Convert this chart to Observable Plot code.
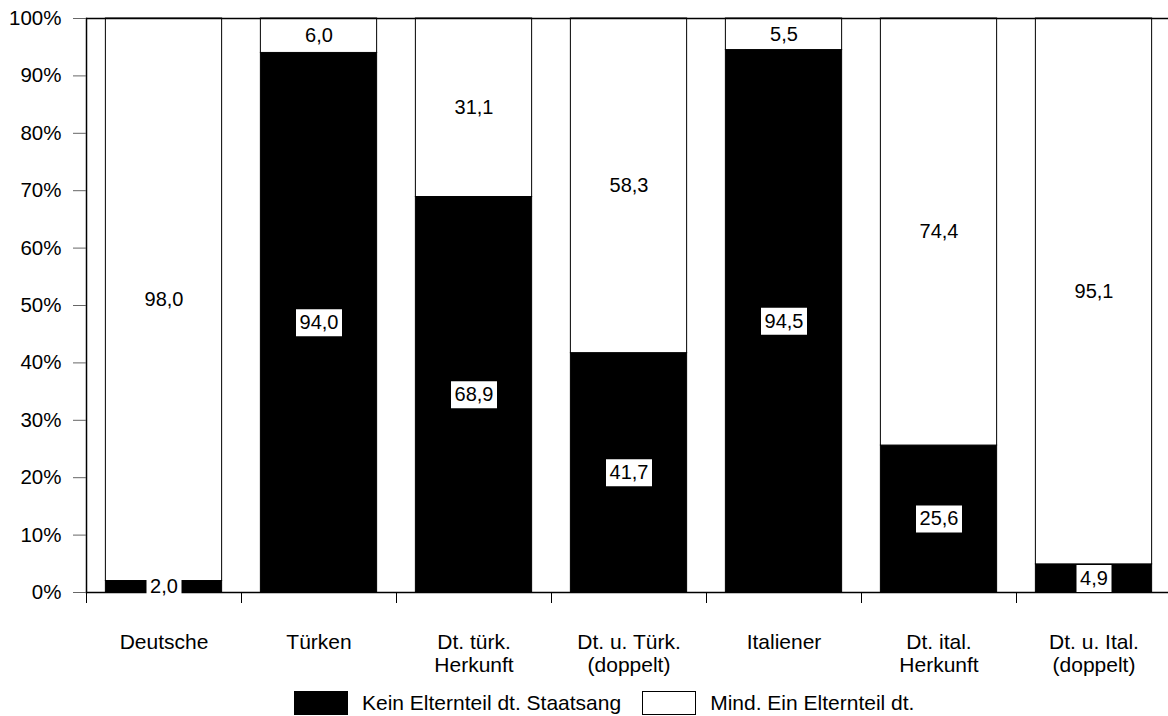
<!DOCTYPE html>
<html><head><meta charset="utf-8">
<script src="https://cdn.jsdelivr.net/npm/d3@7"></script>
<script src="https://cdn.jsdelivr.net/npm/@observablehq/plot@0.6"></script>
<style>
body{margin:0;background:#fff;font-family:"Liberation Sans",Arial,sans-serif;}
#chart svg{display:block;}
#legend{display:flex;align-items:center;height:26px;margin-top:4px;padding-left:294px;font-size:21px;color:#000;}
#legend .sw{width:54px;height:24px;border:1px solid #000;box-sizing:border-box;}
</style></head><body>
<div id="chart"></div>
<div id="legend"></div>
<script>
// ---- data ----
const categories = ["Deutsche","Türken","Dt. türk.\nHerkunft","Dt. u. Türk.\n(doppelt)","Italiener","Dt. ital.\nHerkunft","Dt. u. Ital.\n(doppelt)"];
const keinValues = [2.0, 94.0, 68.9, 41.7, 94.5, 25.6, 4.9];
const mindValues = [98.0, 6.0, 31.1, 58.3, 5.5, 74.4, 95.1];
const seriesNames = ["Kein Elternteil dt. Staatsang", "Mind. Ein Elternteil dt."];
const seriesColors = ["#000000", "#ffffff"];
const yTicks = [0,10,20,30,40,50,60,70,80,90,100];

// ---- table ----
const fmt = v => v.toFixed(1).replace(".", ",");
const rows = [];
categories.forEach((c, i) => {
  rows.push({cat: c, series: seriesNames[0], y1: 0, y2: keinValues[i], label: fmt(keinValues[i])});
  rows.push({cat: c, series: seriesNames[1], y1: keinValues[i], y2: keinValues[i] + mindValues[i], label: fmt(mindValues[i])});
});
const blackRows = rows.filter(d => d.series === seriesNames[0]);
const whiteRows = rows.filter(d => d.series === seriesNames[1]);
const mid = d => (d.y1 + d.y2) / 2;

const boxSymbol = (w, h) => ({draw(ctx) { ctx.rect(-w/2, -h/2, w, h); }});

function boundaryTicks(index, scales) {
  const x = scales.x;
  const bw = typeof x.bandwidth === "function" ? x.bandwidth() : (x.bandwidth ?? 0);
  const centers = categories.map(c => x(c) + bw / 2);
  const step = centers[1] - centers[0];
  const y0 = scales.y(0);
  const g = d3.create("svg:g").attr("stroke", "#000").attr("stroke-width", 1);
  centers.concat([centers[centers.length-1] + step]).forEach(c => {
    const bx = Math.round(c - step / 2) + 0.5;
    g.append("line").attr("x1", bx).attr("x2", bx).attr("y1", y0).attr("y2", y0 + 11);
  });
  return g.node();
}

const chart = Plot.plot({
  width: 1168,
  height: 686,
  marginLeft: 86,
  marginRight: 0,
  marginTop: 18,
  marginBottom: 94,
  style: {fontFamily: "'Liberation Sans', Arial, sans-serif", fontSize: "20px", color: "#000", background: "#fff"},
  x: {domain: categories, paddingInner: 0.25, paddingOuter: 0.125, round: false, range: [86, 1171], label: null},
  y: {domain: [0, 100], label: null},
  marks: [
    Plot.barY(rows, {x: "cat", y1: "y1", y2: "y2", fill: d => d.series === seriesNames[0] ? seriesColors[0] : seriesColors[1], stroke: "#000", strokeWidth: 1}),
    Plot.ruleY([100], {stroke: "#000", strokeWidth: 1.5}),
    Plot.frame({anchor: "left", stroke: "#000", strokeWidth: 1.5}),
    Plot.frame({anchor: "bottom", stroke: "#000", strokeWidth: 1.5}),
    Plot.axisY({ticks: yTicks, tickFormat: d => d + "%", tickSize: 13, tickPadding: 12, stroke: "#666", fontSize: 20.5}),
    Plot.axisX({tickSize: 0, tickPadding: 40, lineHeight: 1.1, fontSize: 21}),
    boundaryTicks,
    Plot.dot(blackRows.filter(d => d.label.length <= 3), {x: "cat", y: mid, symbol: boxSymbol(35, 27), fill: "#fff", stroke: "none"}),
    Plot.dot(blackRows.filter(d => d.label.length > 3), {x: "cat", y: mid, symbol: boxSymbol(46, 27), fill: "#fff", stroke: "none"}),
    Plot.text(blackRows, {x: "cat", y: mid, text: "label", fill: "#000", fontSize: 20}),
    Plot.text(whiteRows, {x: "cat", y: mid, text: "label", fill: "#000", fontSize: 20})
  ]
});
document.getElementById("chart").appendChild(chart);

// ---- legend ----
const legend = d3.select("#legend");
seriesNames.forEach((name, i) => {
  legend.append("div").attr("class", "sw").style("background", seriesColors[i])
    .style("margin-left", i === 0 ? "0px" : "21px");
  legend.append("span").text(name).style("margin-left", "14px");
});
</script>
</body></html>
